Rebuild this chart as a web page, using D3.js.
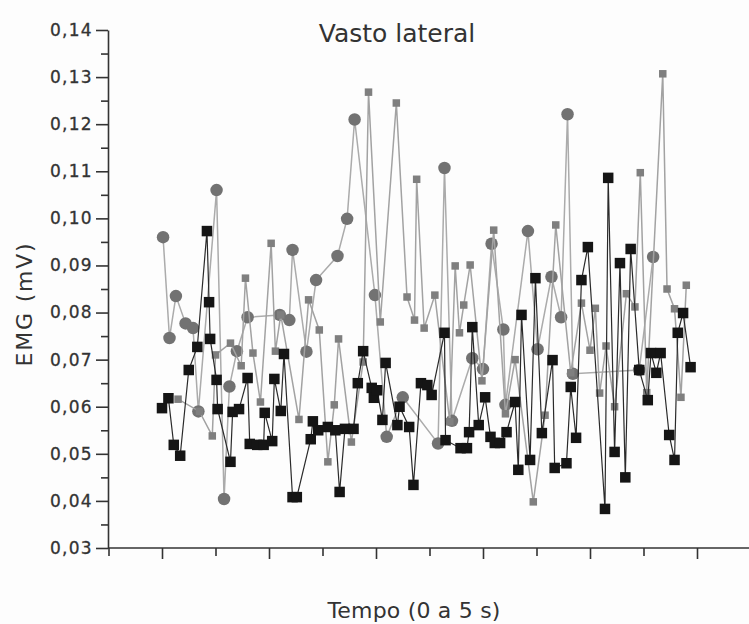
<!DOCTYPE html>
<html>
<head>
<meta charset="utf-8">
<script src="https://cdn.jsdelivr.net/npm/d3@7/dist/d3.min.js"></script>
<style>
  html, body { margin: 0; padding: 0; background: #fdfdfd; }
  svg { display: block; }
  text { font-family: "DejaVu Sans", Verdana, sans-serif; fill: #333; }
</style>
</head>
<body>
<svg id="chart" width="749" height="624"></svg>
<script>
// ---- Data (time in s, EMG in mV) ----
const title = "Vasto lateral";
const xLabel = "Tempo (0 a 5 s)";
const yLabel = "EMG (mV)";
const yTicks = [0.03, 0.04, 0.05, 0.06, 0.07, 0.08, 0.09, 0.10, 0.11, 0.12, 0.13, 0.14];
const xMajorTicks = [0, 1, 2, 3, 4, 5];

// black squares
const blackT = [0.00,0.06,0.11,0.17,0.25,0.33,0.42,0.44,0.45,0.51,0.52,0.64,0.66,0.72,0.80,0.82,0.89,0.95,0.96,1.03,1.05,1.11,1.14,1.22,1.26,1.39,1.41,1.46,1.55,1.62,1.66,1.71,1.79,1.83,1.88,1.96,1.98,2.01,2.06,2.09,2.20,2.22,2.31,2.35,2.42,2.48,2.52,2.64,2.65,2.79,2.85,2.87,2.90,2.96,3.02,3.07,3.11,3.16,3.22,3.30,3.33,3.36,3.44,3.49,3.55,3.65,3.67,3.78,3.82,3.87,3.92,3.98,4.14,4.17,4.23,4.28,4.33,4.38,4.46,4.54,4.57,4.62,4.66,4.74,4.79,4.82,4.87,4.94];
const blackV = [0.0597,0.0618,0.0519,0.0496,0.0678,0.0727,0.0973,0.0822,0.0744,0.0657,0.0595,0.0483,0.0589,0.0595,0.0661,0.0521,0.0519,0.0519,0.0587,0.0527,0.0659,0.0591,0.0712,0.0408,0.0408,0.0531,0.0569,0.0550,0.0557,0.0550,0.0419,0.0553,0.0553,0.0650,0.0718,0.0640,0.0619,0.0635,0.0572,0.0693,0.0561,0.0600,0.0557,0.0434,0.0650,0.0646,0.0625,0.0757,0.0529,0.0512,0.0512,0.0546,0.0769,0.0561,0.0620,0.0536,0.0523,0.0523,0.0546,0.0610,0.0466,0.0795,0.0487,0.0873,0.0544,0.0699,0.0470,0.0480,0.0642,0.0534,0.0869,0.0939,0.0383,0.1086,0.0504,0.0905,0.0450,0.0935,0.0678,0.0614,0.0714,0.0672,0.0714,0.0540,0.0487,0.0757,0.0799,0.0684];

// small grey squares
const greyT = [0.15,0.35,0.47,0.50,0.64,0.74,0.78,0.85,0.92,1.02,1.06,1.11,1.28,1.37,1.47,1.55,1.61,1.65,1.77,1.88,1.93,2.04,2.19,2.29,2.36,2.38,2.45,2.55,2.69,2.74,2.78,2.82,2.88,2.99,3.10,3.21,3.30,3.47,3.58,3.68,3.82,3.92,4.00,4.05,4.09,4.15,4.23,4.34,4.42,4.47,4.53,4.68,4.72,4.79,4.85,4.90];
const greyV = [0.0616,0.0590,0.0538,0.0710,0.0735,0.0687,0.0873,0.0714,0.0610,0.0947,0.0718,0.0795,0.0573,0.0827,0.0763,0.0483,0.0604,0.0744,0.0525,0.0695,0.1268,0.0780,0.1245,0.0833,0.0784,0.1083,0.0767,0.0837,0.0568,0.0899,0.0757,0.0816,0.0901,0.0655,0.0975,0.0585,0.0700,0.0398,0.0582,0.0986,0.0672,0.0820,0.0720,0.0809,0.0629,0.0729,0.0600,0.0840,0.0812,0.1097,0.0630,0.1307,0.0850,0.0808,0.0620,0.0858];

// grey circles
const circleT = [0.01,0.07,0.13,0.22,0.29,0.34,0.51,0.58,0.63,0.70,0.80,1.10,1.19,1.22,1.35,1.44,1.64,1.73,1.80,1.99,2.10,2.25,2.58,2.64,2.71,2.90,3.00,3.08,3.19,3.21,3.42,3.51,3.64,3.73,3.79,3.84,4.46,4.59];
const circleV = [0.0960,0.0746,0.0835,0.0777,0.0767,0.0590,0.1060,0.0404,0.0643,0.0718,0.0790,0.0795,0.0784,0.0933,0.0717,0.0869,0.0920,0.0999,0.1210,0.0837,0.0536,0.0620,0.0522,0.1107,0.0570,0.0703,0.0680,0.0946,0.0764,0.0604,0.0973,0.0722,0.0876,0.0790,0.1221,0.0670,0.0678,0.0918];

// ---- Chart ----
const W = 749, H = 624;
const svg = d3.select("#chart");
const x = d3.scaleLinear().domain([0, 5]).range([162, 697]);
const y = d3.scaleLinear().domain([0.03, 0.14]).range([548, 30]);

const fmt = v => d3.format(".2f")(v).replace(".", ",");

// Y axis
const yMinor = d3.range(0, 11).map(i => 0.035 + i * 0.01);
svg.append("g").attr("transform", "translate(108,0)")
  .call(d3.axisLeft(y).tickValues(yMinor).tickSize(7).tickSizeOuter(0).tickFormat(""))
  .call(g => g.select(".domain").remove())
  .call(g => g.selectAll("line").attr("stroke", "#333").attr("stroke-width", 1.6));
const yAx = svg.append("g").attr("transform", "translate(108,0)")
  .call(d3.axisLeft(y).tickValues(yTicks).tickSize(12).tickSizeOuter(0).tickPadding(3).tickFormat(fmt));
yAx.select(".domain").attr("stroke", "#333").attr("stroke-width", 1.6);
yAx.selectAll("line").attr("stroke", "#333").attr("stroke-width", 1.6);
yAx.selectAll("text").attr("font-size", 17).attr("letter-spacing", "1.3px")
  .attr("font-family", "DejaVu Sans").attr("fill", "#333")
  .attr("stroke", "#333").attr("stroke-width", 0.3);

// X axis
const xMinor = [-0.5, 0.5, 1.5, 2.5, 3.5, 4.5];
svg.append("g").attr("transform", "translate(0,548)")
  .call(d3.axisBottom(x).tickValues(xMinor).tickSize(8).tickFormat(""))
  .call(g => g.select(".domain").remove())
  .call(g => g.selectAll("line").attr("stroke", "#333").attr("stroke-width", 1.6));
svg.append("g").attr("transform", "translate(0,548)")
  .call(d3.axisBottom(x).tickValues(xMajorTicks).tickSize(11).tickFormat(""))
  .call(g => g.select(".domain").remove())
  .call(g => g.selectAll("line").attr("stroke", "#333").attr("stroke-width", 1.6));
svg.append("line")
  .attr("x1", x(-0.505)).attr("x2", W).attr("y1", y(0.03)).attr("y2", y(0.03))
  .attr("stroke", "#333").attr("stroke-width", 1.6);

// Series
function series(T, V, opts) {
  const pts = T.map((t, i) => ({ t, v: V[i] }));
  const line = d3.line().x(d => x(d.t)).y(d => y(d.v));
  const g = svg.append("g");
  g.append("path").datum(pts).attr("d", line)
    .attr("fill", "none").attr("stroke", opts.lineColor).attr("stroke-width", opts.lineWidth);
  if (opts.shape === "circle") {
    g.selectAll("circle").data(pts).join("circle")
      .attr("cx", d => x(d.t)).attr("cy", d => y(d.v)).attr("r", opts.size / 2)
      .attr("fill", opts.fill);
  } else {
    g.selectAll("rect").data(pts).join("rect")
      .attr("x", d => x(d.t) - opts.size / 2).attr("y", d => y(d.v) - opts.size / 2)
      .attr("width", opts.size).attr("height", opts.size)
      .attr("fill", opts.fill);
  }
}
series(circleT, circleV, { shape: "circle", size: 12.5, fill: "#727272", lineColor: "#ababab", lineWidth: 1.5 });
series(greyT, greyV, { shape: "rect", size: 7.5, fill: "#7f7f7f", lineColor: "#a2a2a2", lineWidth: 1.5 });
series(blackT, blackV, { shape: "rect", size: 10.5, fill: "#151515", lineColor: "#2a2a2a", lineWidth: 1.2 });

// Titles
svg.append("text").attr("x", 397).attr("y", 42).attr("text-anchor", "middle")
  .attr("font-size", 25).text(title);
svg.append("text").attr("x", 414).attr("y", 618).attr("text-anchor", "middle")
  .attr("font-size", 22).attr("letter-spacing", "0.2px").text(xLabel);
svg.append("text").attr("transform", "translate(32,304) rotate(-90)").attr("text-anchor", "middle")
  .attr("font-size", 22).attr("letter-spacing", "1.8px").text(yLabel);
</script>
</body>
</html>
